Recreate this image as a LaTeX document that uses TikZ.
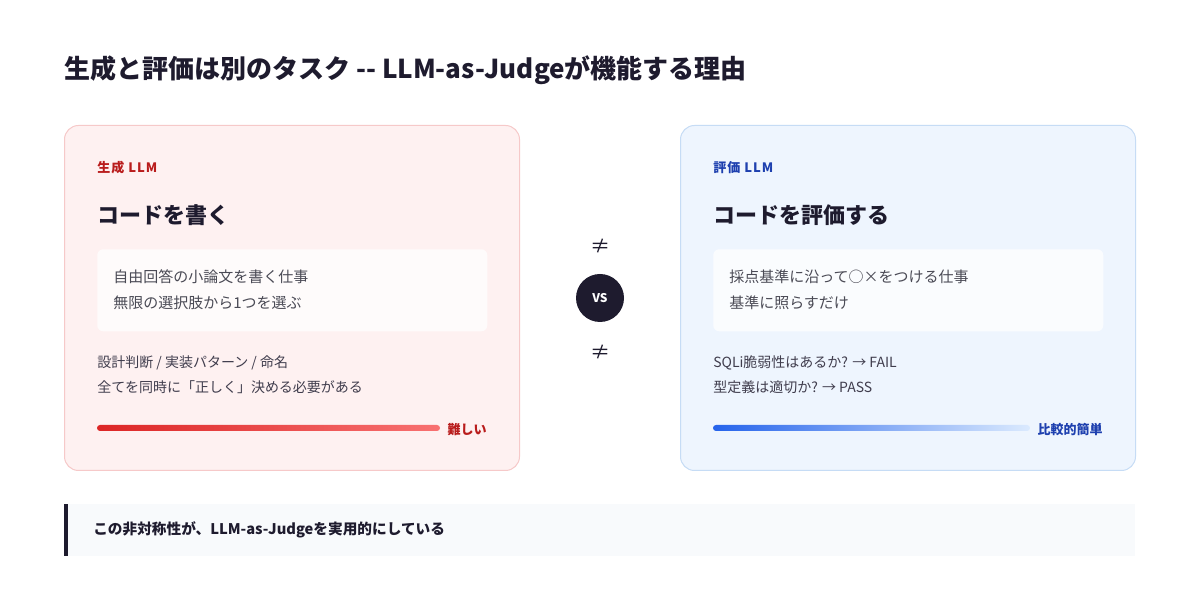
\documentclass[tikz,border=0pt]{standalone}
\usepackage{fontspec}
\setmainfont{Noto Sans CJK JP}
\usetikzlibrary{positioning}

\definecolor{ink}{HTML}{1E1B2E}
\definecolor{body}{HTML}{4A4A55}
\definecolor{redbg}{HTML}{FEF1F1}
\definecolor{redline}{HTML}{F6C9C9}
\definecolor{redtag}{HTML}{B91C1C}
\definecolor{redbarA}{HTML}{DC2626}
\definecolor{redbarB}{HTML}{F87171}
\definecolor{bluebg}{HTML}{EEF5FE}
\definecolor{blueline}{HTML}{C6DCF5}
\definecolor{bluetag}{HTML}{1E40AF}
\definecolor{bluebarA}{HTML}{2563EB}
\definecolor{bluebarB}{HTML}{DBEAFE}
\definecolor{calloutbg}{HTML}{F8FAFC}

\tikzset{
  card/.style={draw, line width=0.75pt, rounded corners=10.5pt, anchor=north west,
    minimum width=341.25pt, minimum height=258.75pt, inner sep=0pt},
  notebox/.style={fill=white, fill opacity=0.75, rounded corners=4.5pt, anchor=north west,
    minimum width=292.5pt, minimum height=61.5pt, inner sep=0pt},
  tag/.style={anchor=west, inner sep=0pt,
    font=\bfseries\fontsize{9.75}{12}\selectfont\addfontfeature{LetterSpace=8}},
  head/.style={anchor=west, inner sep=0pt, text=ink, font=\bfseries\fontsize{16.5}{20}\selectfont},
  notetext/.style={anchor=west, inner sep=0pt, text=body, font=\fontsize{11.25}{14}\selectfont},
  detail/.style={anchor=west, inner sep=0pt, text=ink!85, font=\fontsize{10.5}{13}\selectfont},
  level/.style={anchor=east, inner sep=0pt, font=\bfseries\fontsize{9.75}{12}\selectfont},
  neq/.style={inner sep=0pt, text=ink, font=\fontsize{15}{18}\selectfont}
}

\begin{document}
\begin{tikzpicture}[x=0.75pt, y=-0.75pt]
    \fill[white] (0,0) rectangle (1200,605);
    \useasboundingbox (0,0) rectangle (1200,605);

    % title
    \node[anchor=west, inner sep=0pt, text=ink, font=\bfseries\fontsize{19.5}{24}\selectfont]
        (title) at (64,70) {生成と評価は別のタスク {-}{-} LLM-as-Judgeが機能する理由};

    % generation card
    \node[card, draw=redline, fill=redbg] (genCard) at (64,125) {};
    \node[tag, text=redtag] (genTag) at (97,168) {生成 LLM};
    \node[head] (genHead) at (97,215) {コードを書く};
    \node[notebox] (genNote) at (97,249) {};
    \node[notetext] (genNoteA) at (113,277) {自由回答の小論文を書く仕事};
    \node[notetext] (genNoteB) at (113,303) {無限の選択肢から1つを選ぶ};
    \node[detail] (genDetA) at (97,363) {設計判断 / 実装パターン / 命名};
    \node[detail] (genDetB) at (97,387) {全てを同時に「正しく」決める必要がある};
    \shade[left color=redbarA, right color=redbarB, rounded corners=2.25pt]
        (97,425) rectangle (440,431);
    \node[level, text=redtag] (genLevel) at (487,430) {難しい};

    % evaluation card
    \node[card, draw=blueline, fill=bluebg] (evalCard) at (680,125) {};
    \node[tag, text=bluetag] (evalTag) at (713,168) {評価 LLM};
    \node[head] (evalHead) at (713,215) {コードを評価する};
    \node[notebox] (evalNote) at (713,249) {};
    \node[notetext] (evalNoteA) at (729,277) {採点基準に沿って○×をつける仕事};
    \node[notetext] (evalNoteB) at (729,303) {基準に照らすだけ};
    \node[detail] (evalDetA) at (713,363) {SQLi脆弱性はあるか? → FAIL};
    \node[detail] (evalDetB) at (713,387) {型定義は適切か? → PASS};
    \shade[left color=bluebarA, right color=bluebarB, rounded corners=2.25pt]
        (713,425) rectangle (1030,431);
    \node[level, text=bluetag] (evalLevel) at (1103,430) {比較的簡単};

    % versus
    \node[circle, fill=ink, minimum size=36pt, inner sep=0pt, text=white,
        font=\bfseries\fontsize{9}{11}\selectfont] (vs) at (600,298) {VS};
    \node[neq] (neqTop) at (600,246) {≠};
    \node[neq] (neqBot) at (600,352) {≠};

    % conclusion
    \node[fill=calloutbg, anchor=north west, inner sep=0pt,
        minimum width=803.25pt, minimum height=39pt] (moral) at (64,504) {};
    \fill[ink] (moral.north west) rectangle ++(4,52);
    \node[anchor=west, inner sep=0pt, text=ink, font=\bfseries\fontsize{11}{13}\selectfont]
        (moralText) at (93,530) {この非対称性が、LLM-as-Judgeを実用的にしている};
\end{tikzpicture}
\end{document}
